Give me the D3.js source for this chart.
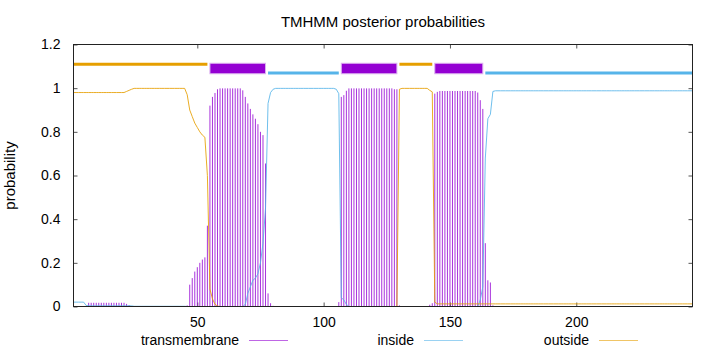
<!DOCTYPE html>
<html>
<head>
<meta charset="utf-8">
<script src="https://cdn.jsdelivr.net/npm/d3@7/dist/d3.min.js"></script>
<style>
body { margin: 0; background: #fff; }
text { font-family: "Liberation Sans", Arial, sans-serif; fill: #000; }
</style>
</head>
<body>
<svg id="chart" width="720" height="352"></svg>
<script>
// posterior probability per residue (1..246)
let transmembrane = [
    0, 0, 0, 0, 0, 0.003, 0.017, 0.017, 0.017, 0.017,
    0.017, 0.017, 0.017, 0.017, 0.017, 0.017, 0.017, 0.017, 0.017, 0.017,
    0.017, 0.012, 0.006, 0.002, 0, 0, 0, 0, 0, 0,
    0, 0, 0, 0, 0, 0, 0, 0, 0, 0,
    0, 0, 0, 0, 0, 0.005, 0.10, 0.13, 0.16, 0.18,
    0.20, 0.215, 0.225, 0.37, 0.92, 0.96, 0.978, 0.995, 0.999, 0.999,
    0.999, 0.999, 0.999, 0.999, 0.999, 0.999, 0.999, 0.99, 0.96, 0.93,
    0.905, 0.88, 0.86, 0.835, 0.80, 0.785, 0.655, 0.06, 0.015, 0.003,
    0, 0, 0, 0, 0, 0, 0, 0, 0, 0,
    0, 0, 0, 0, 0, 0, 0, 0, 0, 0,
    0, 0, 0, 0, 0, 0.02, 0.96, 0.968, 0.988, 0.999,
    0.999, 0.999, 0.999, 0.999, 0.999, 0.999, 0.999, 0.999, 0.999, 0.999,
    0.999, 0.999, 0.999, 0.999, 0.999, 0.999, 0.999, 0.995, 0.995, 0.005,
    0, 0, 0, 0, 0, 0, 0, 0, 0, 0,
    0, 0.008, 0.015, 0.975, 0.983, 0.987, 0.987, 0.987, 0.987, 0.987,
    0.987, 0.987, 0.987, 0.987, 0.987, 0.987, 0.987, 0.987, 0.987, 0.987,
    0.98, 0.945, 0.905, 0.29, 0.12, 0.11, 0.005, 0, 0, 0,
    0, 0, 0, 0, 0, 0, 0, 0, 0, 0,
    0, 0, 0, 0, 0, 0, 0, 0, 0, 0,
    0, 0, 0, 0, 0, 0, 0, 0, 0, 0,
    0, 0, 0, 0, 0, 0, 0, 0, 0, 0,
    0, 0, 0, 0, 0, 0, 0, 0, 0, 0,
    0, 0, 0, 0, 0, 0, 0, 0, 0, 0,
    0, 0, 0, 0, 0, 0, 0, 0, 0, 0,
    0, 0, 0, 0, 0, 0
];
let inside = [
    0.02, 0.02, 0.02, 0.02, 0.02, 0.005, 0.003, 0.003, 0.003, 0.003,
    0.003, 0.003, 0.003, 0.003, 0.003, 0.003, 0.003, 0.003, 0.003, 0.003,
    0.003, 0.003, 0.003, 0.003, 0.001, 0.001, 0.001, 0.001, 0.001, 0.001,
    0.001, 0.001, 0.001, 0.001, 0.001, 0.001, 0.001, 0.001, 0.001, 0.001,
    0.001, 0.001, 0.001, 0.001, 0.001, 0, 0, 0, 0, 0,
    0, 0, 0, 0, 0, 0, 0, 0, 0, 0,
    0, 0, 0, 0, 0, 0, 0, 0, 0.01, 0.06,
    0.09, 0.12, 0.13, 0.15, 0.20, 0.29, 0.45, 0.93, 0.98, 0.995,
    0.999, 0.999, 0.999, 0.999, 0.999, 0.999, 0.999, 0.999, 0.999, 0.999,
    0.999, 0.999, 0.999, 0.999, 0.999, 0.999, 0.999, 0.999, 0.999, 0.999,
    0.999, 0.999, 0.999, 0.999, 0.995, 0.975, 0.04, 0.03, 0.01, 0,
    0, 0, 0, 0, 0, 0, 0, 0, 0, 0,
    0, 0, 0, 0, 0, 0, 0, 0, 0, 0,
    0, 0, 0, 0, 0, 0, 0, 0, 0, 0,
    0, 0, 0, 0, 0, 0, 0, 0, 0, 0,
    0, 0, 0, 0, 0, 0, 0, 0, 0, 0,
    0, 0.03, 0.09, 0.68, 0.86, 0.88, 0.985, 0.988, 0.988, 0.988,
    0.988, 0.988, 0.988, 0.988, 0.988, 0.988, 0.988, 0.988, 0.988, 0.988,
    0.988, 0.988, 0.988, 0.988, 0.988, 0.988, 0.988, 0.988, 0.988, 0.988,
    0.988, 0.988, 0.988, 0.988, 0.988, 0.988, 0.988, 0.988, 0.988, 0.988,
    0.988, 0.988, 0.988, 0.988, 0.988, 0.988, 0.988, 0.988, 0.988, 0.988,
    0.988, 0.988, 0.988, 0.988, 0.988, 0.988, 0.988, 0.988, 0.988, 0.988,
    0.988, 0.988, 0.988, 0.988, 0.988, 0.988, 0.988, 0.988, 0.988, 0.988,
    0.988, 0.988, 0.988, 0.988, 0.988, 0.988, 0.988, 0.988, 0.988, 0.988,
    0.988, 0.988, 0.988, 0.988, 0.988, 0.988
];
let outside = [
    0.98, 0.98, 0.98, 0.98, 0.98, 0.98, 0.98, 0.98, 0.98, 0.98,
    0.98, 0.98, 0.98, 0.98, 0.98, 0.98, 0.98, 0.98, 0.98, 0.98,
    0.98, 0.985, 0.99, 0.995, 0.999, 0.999, 0.999, 0.999, 0.999, 0.999,
    0.999, 0.999, 0.999, 0.999, 0.999, 0.999, 0.999, 0.999, 0.999, 0.999,
    0.999, 0.999, 0.999, 0.999, 0.999, 0.97, 0.90, 0.87, 0.84, 0.82,
    0.80, 0.785, 0.775, 0.60, 0.08, 0.035, 0.01, 0.002, 0, 0,
    0, 0, 0, 0, 0, 0, 0, 0, 0, 0,
    0, 0, 0, 0, 0, 0, 0, 0, 0, 0,
    0, 0, 0, 0, 0, 0, 0, 0, 0, 0,
    0, 0, 0, 0, 0, 0, 0, 0, 0, 0,
    0, 0, 0, 0, 0, 0, 0, 0, 0, 0,
    0, 0, 0, 0, 0, 0, 0, 0, 0, 0,
    0, 0, 0, 0, 0, 0, 0, 0, 0, 0.995,
    0.999, 0.999, 0.999, 0.999, 0.999, 0.999, 0.999, 0.999, 0.999, 0.999,
    0.999, 0.99, 0.983, 0.02, 0.012, 0.012, 0.012, 0.012, 0.012, 0.012,
    0.012, 0.012, 0.012, 0.012, 0.012, 0.012, 0.012, 0.012, 0.012, 0.012,
    0.012, 0.012, 0.012, 0.012, 0.012, 0.012, 0.012, 0.012, 0.012, 0.012,
    0.012, 0.012, 0.012, 0.012, 0.012, 0.012, 0.012, 0.012, 0.012, 0.012,
    0.012, 0.012, 0.012, 0.012, 0.012, 0.012, 0.012, 0.012, 0.012, 0.012,
    0.012, 0.012, 0.012, 0.012, 0.012, 0.012, 0.012, 0.012, 0.012, 0.012,
    0.012, 0.012, 0.012, 0.012, 0.012, 0.012, 0.012, 0.012, 0.012, 0.012,
    0.012, 0.012, 0.012, 0.012, 0.012, 0.012, 0.012, 0.012, 0.012, 0.012,
    0.012, 0.012, 0.012, 0.012, 0.012, 0.012, 0.012, 0.012, 0.012, 0.012,
    0.012, 0.012, 0.012, 0.012, 0.012, 0.012, 0.012, 0.012, 0.012, 0.012,
    0.012, 0.012, 0.012, 0.012, 0.012, 0.012
];

// predicted topology (residue ranges) drawn above the curves
let outsideSegments = [[1, 54], [130, 143]];
let tmSegments = [[55, 77], [107, 129], [144, 163]];
let insideSegments = [[78, 106], [164, 246]];

let xTicks = [50, 100, 150, 200];
let yTicks = [0, 0.2, 0.4, 0.6, 0.8, 1, 1.2];
let seqLength = 246;

let colors = {tm: '#9400d3', inside: '#56b4e9', outside: '#e69f00'};

let svg = d3.select('#chart');
let plot = {left: 73.5, right: 692.5, top: 44.5, bottom: 306.5};

let xScale = d3.scaleLinear().domain([1, seqLength]).range([plot.left, plot.right]);
let yScale = d3.scaleLinear().domain([0, 1.2]).range([plot.bottom, plot.top]);

// title
svg.append('text')
    .attr('x', (plot.left + plot.right) / 2).attr('y', 27)
    .attr('text-anchor', 'middle')
    .style('font-size', '15px')
    .text('TMHMM posterior probabilities');

// y label
svg.append('text')
    .attr('transform', 'translate(15,' + (plot.top + plot.bottom) / 2 + ') rotate(-90)')
    .attr('text-anchor', 'middle')
    .style('font-size', '15px')
    .text('probability');

// axes, ticks pointing inwards like gnuplot
let yAxis = d3.axisLeft(yScale).tickValues(yTicks).tickSize(-4).tickPadding(13)
    .tickFormat(d3.format('~g'));
let xAxis = d3.axisBottom(xScale).tickValues(xTicks).tickSize(-4).tickPadding(11);

svg.append('g').attr('transform', 'translate(' + plot.left + ',0)').call(yAxis);
svg.append('g').attr('transform', 'translate(0,' + plot.bottom + ')').call(xAxis);
svg.append('g').attr('transform', 'translate(' + plot.right + ',0)')
    .call(d3.axisRight(yScale).tickValues(yTicks).tickSize(-4).tickFormat(''));
svg.append('g').attr('transform', 'translate(0,' + plot.top + ')')
    .call(d3.axisTop(xScale).tickValues(xTicks).tickSize(-4).tickFormat(''));

svg.selectAll('.domain').remove();
svg.selectAll('.tick line').attr('stroke', '#555');
svg.selectAll('.tick text').style('font-size', '14px').attr('fill', '#000');

// transmembrane impulses
svg.append('g').selectAll('line')
    .data(transmembrane)
    .enter().append('line')
    .attr('x1', (d, i) => xScale(i + 1))
    .attr('x2', (d, i) => xScale(i + 1))
    .attr('y1', yScale(0))
    .attr('y2', d => yScale(d))
    .attr('stroke', colors.tm)
    .attr('stroke-opacity', 0.8)
    .attr('stroke-width', 1);

let line = d3.line()
    .x((d, i) => xScale(i + 1))
    .y(d => yScale(d));

svg.append('path').datum(inside)
    .attr('d', line).attr('fill', 'none')
    .attr('stroke', colors.inside).attr('stroke-opacity', 0.85).attr('stroke-width', 1);
svg.append('path').datum(outside)
    .attr('d', line).attr('fill', 'none')
    .attr('stroke', colors.outside).attr('stroke-opacity', 0.85).attr('stroke-width', 1);

// topology bars
svg.append('g').selectAll('line')
    .data(outsideSegments)
    .enter().append('line')
    .attr('x1', d => xScale(d[0])).attr('x2', d => xScale(d[1]))
    .attr('y1', yScale(1.11)).attr('y2', yScale(1.11))
    .attr('stroke', colors.outside).attr('stroke-width', 3);
svg.append('g').selectAll('line')
    .data(insideSegments)
    .enter().append('line')
    .attr('x1', d => xScale(d[0])).attr('x2', d => xScale(d[1]))
    .attr('y1', yScale(1.07)).attr('y2', yScale(1.07))
    .attr('stroke', colors.inside).attr('stroke-width', 3);
svg.append('g').selectAll('rect')
    .data(tmSegments)
    .enter().append('rect')
    .attr('x', d => xScale(d[0]))
    .attr('width', d => xScale(d[1]) - xScale(d[0]))
    .attr('y', yScale(1.114))
    .attr('height', yScale(1.066) - yScale(1.114))
    .attr('fill', colors.tm)
    .attr('stroke', '#dcb0f0').attr('stroke-width', 1);

// border
svg.append('rect')
    .attr('x', plot.left).attr('y', plot.top)
    .attr('width', plot.right - plot.left).attr('height', plot.bottom - plot.top)
    .attr('fill', 'none').attr('stroke', '#222').attr('stroke-width', 1);

// legend
let legendItems = [
    {name: 'transmembrane', color: colors.tm, x: 239},
    {name: 'inside', color: colors.inside, x: 414},
    {name: 'outside', color: colors.outside, x: 589}
];
let legend = svg.append('g').selectAll('g')
    .data(legendItems)
    .enter().append('g');
legend.append('text')
    .attr('x', d => d.x).attr('y', 345)
    .attr('text-anchor', 'end')
    .style('font-size', '14px')
    .text(d => d.name);
legend.append('line')
    .attr('x1', d => d.x + 10).attr('x2', d => d.x + 49)
    .attr('y1', 340.5).attr('y2', 340.5)
    .attr('stroke', d => d.color).attr('stroke-opacity', 0.6)
    .attr('stroke-width', 1);
</script>
</body>
</html>
